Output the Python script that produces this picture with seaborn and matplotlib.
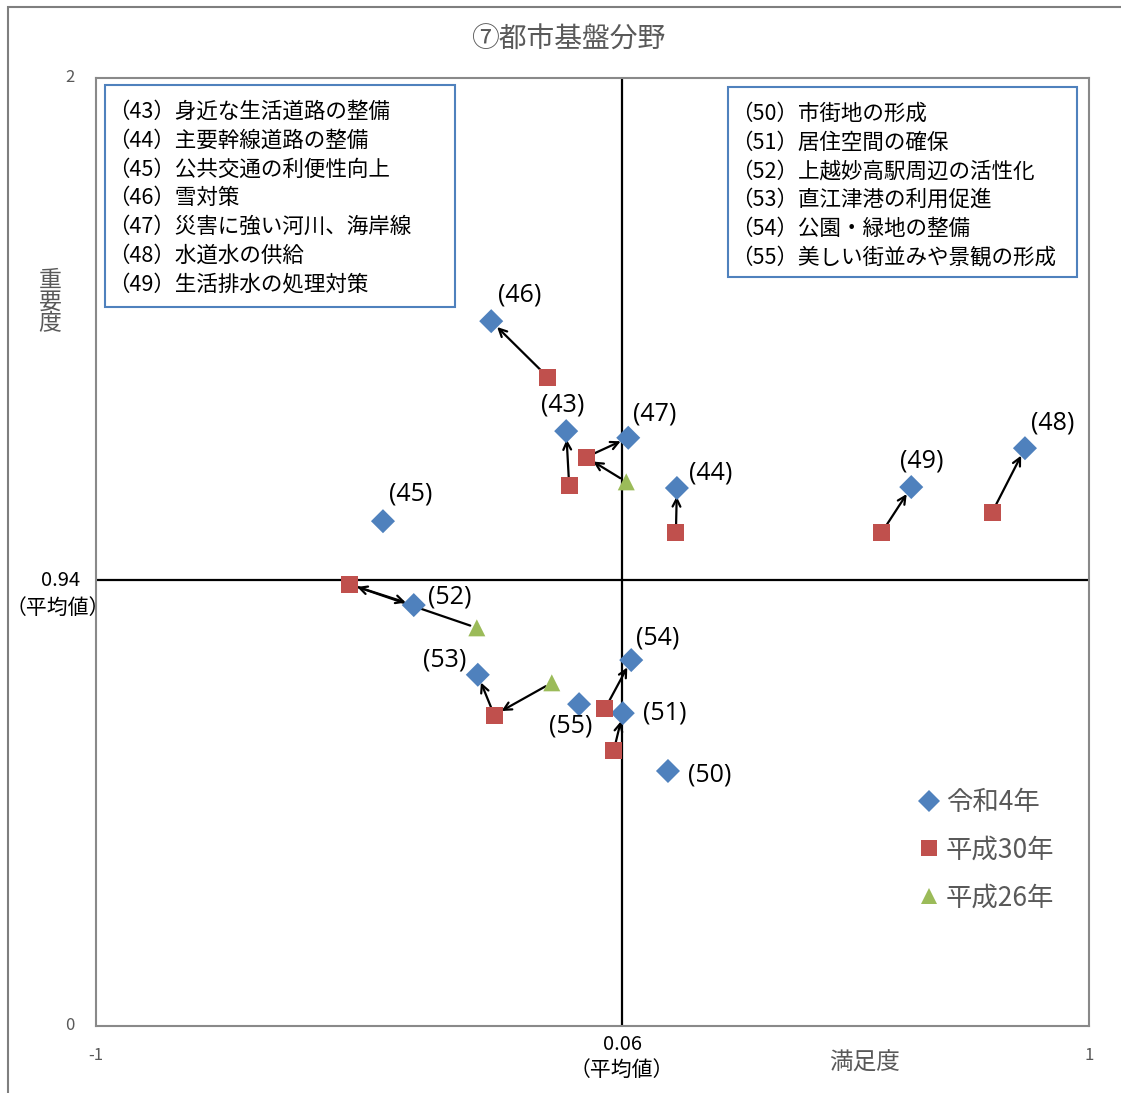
import numpy as np
import pandas as pd
import matplotlib
matplotlib.use("Agg")
import matplotlib.pyplot as plt
from matplotlib.patches import Rectangle
import seaborn as sns

# 項目番号
items = ['43', '44', '45', '46', '47', '48', '49', '50', '51', '52', '53', '54', '55']

# 令和4年 (満足度, 重要度)
r4_x = [-0.053, 0.170, -0.422, -0.204, 0.072, 0.871, 0.642, 0.152, 0.061, -0.360, -0.231, 0.078, -0.027]
r4_y = [1.255, 1.135, 1.065, 1.487, 1.241, 1.219, 1.137, 0.538, 0.660, 0.888, 0.741, 0.772, 0.679]

# 平成30年
h30_items = ['43', '44', '46', '47', '48', '49', '51', '52', '53', '54']
h30_x = [-0.047, 0.168, -0.090, -0.013, 0.805, 0.583, 0.043, -0.490, -0.198, 0.025]
h30_y = [1.141, 1.042, 1.369, 1.200, 1.084, 1.042, 0.582, 0.932, 0.656, 0.669]

# 平成26年
h26_items = ['47', '52', '53']
h26_x = [0.068, -0.233, -0.082]
h26_y = [1.148, 0.840, 0.724]

avg_x = 0.06
avg_y = 0.94

box_left = ['（43）身近な生活道路の整備', '（44）主要幹線道路の整備', '（45）公共交通の利便性向上',
            '（46）雪対策', '（47）災害に強い河川、海岸線', '（48）水道水の供給', '（49）生活排水の処理対策']
box_right = ['（50）市街地の形成', '（51）居住空間の確保', '（52）上越妙高駅周辺の活性化',
             '（53）直江津港の利用促進', '（54）公園・緑地の整備', '（55）美しい街並みや景観の形成']

df = pd.concat([
    pd.DataFrame({'no': items, 'x': r4_x, 'y': r4_y, 'year': '令和4年'}),
    pd.DataFrame({'no': h30_items, 'x': h30_x, 'y': h30_y, 'year': '平成30年'}),
    pd.DataFrame({'no': h26_items, 'x': h26_x, 'y': h26_y, 'year': '平成26年'}),
])

sns.set_style("white")
plt.rcParams['font.family'] = ['Noto Sans CJK JP', 'DejaVu Sans']

fig = plt.figure(figsize=(11.21, 10.93), dpi=100)
ax = fig.add_axes([96 / 1121, 1 - 1026 / 1093, 993 / 1121, 948 / 1093])

gray = '#595959'
colors = {'令和4年': '#4F81BD', '平成30年': '#C0504D', '平成26年': '#9BBB59'}
markers = {'令和4年': 'D', '平成30年': 's', '平成26年': '^'}

ax.axvline(avg_x, color='black', lw=1.6, zorder=1)
ax.axhline(avg_y, color='black', lw=1.6, zorder=1)

# 矢印 (古い年 -> 新しい年)
r4 = dict(zip(items, zip(r4_x, r4_y)))
h30 = dict(zip(h30_items, zip(h30_x, h30_y)))
h26 = dict(zip(h26_items, zip(h26_x, h26_y)))
arrow_kw = dict(arrowstyle='->', color='black', lw=1.6, shrinkA=5, shrinkB=6, mutation_scale=14)
for k, p in h26.items():
    ax.annotate('', xy=h30[k], xytext=p, arrowprops=arrow_kw, zorder=2)
for k, p in h30.items():
    ax.annotate('', xy=r4[k], xytext=p, arrowprops=arrow_kw, zorder=2)

sns.scatterplot(data=df, x='x', y='y', hue='year', style='year', palette=colors, markers=markers,
                s=150, linewidth=0, ax=ax, zorder=3, legend=True)

# 項目ラベル位置 (ピクセルオフセット)
offsets = {'43': (-3, 26), '44': (34, 15), '45': (28, 27), '46': (28, 26), '47': (26, 24),
           '48': (28, 25), '49': (10, 26), '50': (42, -4), '51': (42, 0), '52': (36, 8),
           '53': (-33, 15), '54': (26, 22), '55': (-8, -22)}
for k, (px, py) in r4.items():
    ax.annotate(f'({k})', xy=(px, py), xytext=offsets[k], textcoords='offset pixels',
                ha='center', va='center', fontsize=18, color='black', family='Open Sans')

ax.set_xlim(-1, 1)
ax.set_ylim(0, 2)
ax.set_xticks([])
ax.set_yticks([])
ax.set_xlabel('')
ax.set_ylabel('')
for s in ax.spines.values():
    s.set_color('#898989')
    s.set_linewidth(1.5)

# 軸目盛ラベル
fig.text(96 / 1121, 1 - 1055 / 1093, '-1', ha='center', va='center', fontsize=12, color=gray)
fig.text(1089 / 1121, 1 - 1055 / 1093, '1', ha='center', va='center', fontsize=12, color=gray)
fig.text(70 / 1121, 1 - 78 / 1093, '2', ha='center', va='center', fontsize=12, color=gray)
fig.text(70 / 1121, 1 - 1026 / 1093, '0', ha='center', va='center', fontsize=12, color=gray)
xt = ax.get_xaxis_transform()
ax.annotate('0.06', xy=(avg_x, 0), xycoords=xt, xytext=(0, -19), textcoords='offset pixels',
            ha='center', va='center', fontsize=14.5, color='black')
ax.annotate('（平均値）', xy=(avg_x, 0), xycoords=xt, xytext=(-1, -44), textcoords='offset pixels',
            ha='center', va='center', fontsize=15, color='black')
yt = ax.get_yaxis_transform()
ax.annotate('0.94', xy=(0, avg_y), xycoords=yt, xytext=(-35, 0), textcoords='offset pixels',
            ha='center', va='center', fontsize=14.5, color='black')
ax.annotate('（平均値）', xy=(0, avg_y), xycoords=yt, xytext=(-38, -28), textcoords='offset pixels',
            ha='center', va='center', fontsize=15, color='black')
fig.text(865 / 1121, 1 - 1063 / 1093, '満足度', ha='center', va='center', fontsize=17, color=gray)
fig.text(50 / 1121, 1 - 302 / 1093, '重\n要\n度', ha='center', va='center', fontsize=16.5,
         color=gray, linespacing=0.92)

fig.text(568 / 1121, 1 - 40 / 1093, '⑦都市基盤分野', ha='center', va='center', fontsize=20, color=gray)

# 説明ボックス
def draw_box(x0, y0, x1, y1, lines):
    fig.patches.append(Rectangle((x0 / 1121, 1 - y1 / 1093), (x1 - x0) / 1121, (y1 - y0) / 1093,
                                 transform=fig.transFigure, fill=True, facecolor='white',
                                 edgecolor='#4F81BD', lw=1.5, zorder=5))
    for i, t in enumerate(lines):
        fig.text((x0 + 3) / 1121, 1 - (y0 + 27 + 28.7 * i) / 1093, t, ha='left', va='center',
                 fontsize=15.5, color='black', zorder=6)

draw_box(105, 85, 455, 307, box_left)
draw_box(728, 87, 1077, 277, box_right)

# 凡例
leg = ax.legend(loc='upper left', bbox_to_anchor=(0.80, 0.275), frameon=False, fontsize=19,
                handletextpad=0.1, labelspacing=0.78, markerscale=0.95, handlelength=1.1)
for t in leg.get_texts():
    t.set_color(gray)

# 外枠
fig.patches.append(Rectangle((8 / 1121, -0.01), 1.02, 1 - 7 / 1093 + 0.01, transform=fig.transFigure,
                             fill=False, edgecolor='#7F7F7F', lw=1.5, zorder=0))

fig.savefig('out.png', dpi=100)
